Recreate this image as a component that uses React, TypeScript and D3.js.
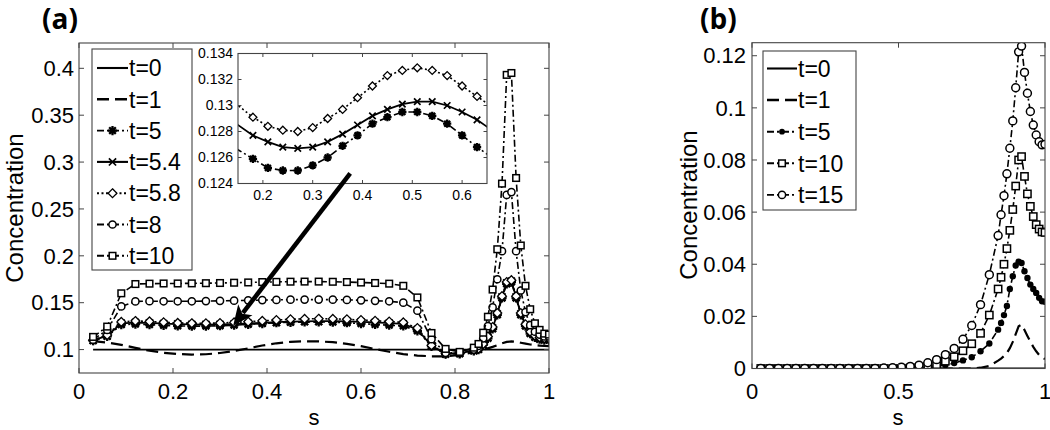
import React from "react";
import * as d3 from "d3";

// ---------- DATA ----------
const S_GRID = [
  0.03, 0.06, 0.09, 0.12, 0.15, 0.18, 0.21, 0.24, 0.27, 0.30, 0.33, 0.36, 0.39, 0.42,
  0.45, 0.48, 0.51, 0.54, 0.57, 0.60, 0.63, 0.66, 0.69, 0.72, 0.75, 0.78, 0.81, 0.84,
  0.85, 0.86, 0.87, 0.88, 0.89, 0.90, 0.91, 0.92, 0.93, 0.94, 0.95, 0.96, 0.97, 0.98, 0.99, 1.00,
];
const T0_S = [0.03, 1.0];

// panel (a)
const A_T0 = [0.1, 0.1];
const A_T1 = [
  0.109, 0.1075, 0.105, 0.1018, 0.0988, 0.0966, 0.0952, 0.0947, 0.095, 0.0963, 0.0985, 0.1013, 0.1043, 0.1067,
  0.1082, 0.1088, 0.1087, 0.1079, 0.1061, 0.1036, 0.1006, 0.0977, 0.0952, 0.0936, 0.0928, 0.0928, 0.0942, 0.0972,
  0.0984, 0.0998, 0.1013, 0.1029, 0.1047, 0.1066, 0.1082, 0.1087, 0.1082, 0.1073, 0.1063, 0.1054, 0.1047, 0.1042, 0.1038, 0.1036,
];
const A_T5 = [
  0.1095, 0.114, 0.1265, 0.1272, 0.1266, 0.1259, 0.1252, 0.125, 0.125, 0.1254, 0.126, 0.1269, 0.1277, 0.1286,
  0.1291, 0.1295, 0.1295, 0.1292, 0.1286, 0.1277, 0.1268, 0.126, 0.1252, 0.12, 0.1035, 0.095, 0.0955, 0.0985,
  0.1, 0.105, 0.112, 0.122, 0.137, 0.155, 0.17, 0.172, 0.155, 0.137, 0.125, 0.117, 0.113, 0.111, 0.11, 0.11,
];
const A_T54 = [
  0.1098, 0.1148, 0.128, 0.1288, 0.1285, 0.1277, 0.1272, 0.1268, 0.1267, 0.1268, 0.1272, 0.1278, 0.1285, 0.1292,
  0.1297, 0.1301, 0.1303, 0.1303, 0.13, 0.1295, 0.1289, 0.1281, 0.1273, 0.1215, 0.104, 0.0955, 0.096, 0.099,
  0.1005, 0.1055, 0.113, 0.123, 0.138, 0.156, 0.171, 0.173, 0.156, 0.138, 0.126, 0.118, 0.114, 0.112, 0.111, 0.111,
];
const A_T58 = [
  0.11, 0.1155, 0.1295, 0.1305, 0.13, 0.1291, 0.1284, 0.1281, 0.128, 0.1283, 0.129, 0.1297, 0.1306, 0.1315,
  0.1323, 0.1327, 0.1329, 0.1327, 0.1323, 0.1315, 0.1307, 0.1299, 0.129, 0.123, 0.1045, 0.096, 0.0963, 0.0995,
  0.101, 0.106, 0.114, 0.124, 0.139, 0.157, 0.172, 0.174, 0.157, 0.139, 0.127, 0.119, 0.115, 0.113, 0.112, 0.112,
];
const A_T8 = [
  0.1106, 0.121, 0.146, 0.1514, 0.1516, 0.1515, 0.1515, 0.1515, 0.1517, 0.152, 0.1522, 0.1525, 0.1528, 0.153,
  0.1532, 0.1533, 0.1533, 0.1532, 0.153, 0.1525, 0.152, 0.1515, 0.15, 0.1415, 0.111, 0.0965, 0.0965, 0.1,
  0.104, 0.112, 0.125, 0.145, 0.175, 0.205, 0.265, 0.268, 0.205, 0.163, 0.14, 0.126, 0.119, 0.116, 0.114, 0.114,
];
const A_T10 = [
  0.1135, 0.1245, 0.16, 0.1699, 0.1703, 0.1705, 0.1705, 0.1706, 0.1708, 0.171, 0.1713, 0.1716, 0.172, 0.1722,
  0.1724, 0.1725, 0.1725, 0.1723, 0.172, 0.1715, 0.171, 0.1703, 0.168, 0.1556, 0.1177, 0.1007, 0.0975, 0.102,
  0.106, 0.118, 0.135, 0.164, 0.207, 0.277, 0.393, 0.395, 0.283, 0.211, 0.168, 0.143, 0.128, 0.121, 0.117, 0.116,
];

// panel (b)
const B_T0 = [0, 0];
const B_T1 = [
  0, 0, 0, 0, 0, 0, 0, 0, 0, 0, 0, 0, 0, 0,
  0, 0, 0, 0, 0, 0, 0, 0, 0, 0, 0, 0.0003, 0.001, 0.003,
  0.0038, 0.0048, 0.006, 0.0078, 0.0102, 0.0132, 0.0162, 0.0168, 0.0148, 0.0125, 0.0103, 0.0083, 0.0066, 0.0052, 0.0042, 0.0036,
];
const B_T5 = [
  0, 0, 0, 0, 0, 0, 0, 0, 0, 0, 0, 0, 0, 0,
  0, 0, 0, 0, 0.0002, 0.0004, 0.0008, 0.0013, 0.0021, 0.0031, 0.0043, 0.0066, 0.0096, 0.0149,
  0.0175, 0.0205, 0.024, 0.0305, 0.0354, 0.0395, 0.041, 0.0405, 0.0373, 0.0347, 0.0322, 0.0305, 0.029, 0.0271, 0.0258, 0.0256,
];
const B_T10 = [
  0, 0, 0, 0, 0, 0, 0, 0, 0, 0, 0, 0, 0, 0,
  0, 0, 0, 0.0002, 0.0004, 0.0008, 0.0015, 0.0028, 0.0045, 0.0068, 0.0095, 0.0135, 0.0205, 0.0305,
  0.035, 0.04, 0.046, 0.053, 0.061, 0.07, 0.08, 0.0813, 0.0737, 0.067, 0.0622, 0.0583, 0.0552, 0.0535, 0.0524, 0.0522,
];
const B_T15 = [
  0, 0, 0, 0, 0, 0, 0, 0, 0, 0, 0, 0, 0, 0,
  0.0002, 0.0003, 0.0005, 0.0008, 0.0013, 0.0022, 0.0034, 0.0053, 0.0077, 0.0112, 0.0165, 0.0245, 0.036, 0.051,
  0.059, 0.0663, 0.0747, 0.0845, 0.095, 0.1077, 0.1215, 0.1237, 0.1136, 0.1056, 0.0986, 0.0934, 0.0896, 0.087, 0.0858, 0.086,
];

const A_X_TICKS = [0, 0.2, 0.4, 0.6, 0.8, 1];
const A_Y_TICKS = [0.1, 0.15, 0.2, 0.25, 0.3, 0.35, 0.4];
const I_X_TICKS = [0.2, 0.3, 0.4, 0.5, 0.6];
const I_Y_TICKS = [0.124, 0.126, 0.128, 0.13, 0.132, 0.134];
const B_X_TICKS = [0, 0.5, 1];
const B_Y_TICKS = [0, 0.02, 0.04, 0.06, 0.08, 0.1, 0.12];
const A_LABELS = ["t=0", "t=1", "t=5", "t=5.4", "t=5.8", "t=8", "t=10"];
const B_LABELS = ["t=0", "t=1", "t=5", "t=10", "t=15"];
const ARROW_FROM = [0.577, 0.288];
const ARROW_TO = [0.328, 0.1255];

// ---------- STYLE ----------
const FONT = "'Liberation Sans', Arial, Helvetica, sans-serif";
const DASH = { solid: undefined, dashed: "12,6", dashdot: "7,3,2,3", dotted: "2,2.5" } as any;
const WIDTH = { solid: 1.8, dashed: 2.2, dashdot: 1.6, dotted: 1.6 } as any;

const xA = d3.scaleLinear().domain([0, 1]).range([79, 549]);
const yA = d3.scaleLinear().domain([0.075, 0.427]).range([373, 43]);
const xI = d3.scaleLinear().domain([0.15, 0.65]).range([238, 487]);
const yI = d3.scaleLinear().domain([0.124, 0.134]).range([183.5, 53.5]);
const xB = d3.scaleLinear().domain([0, 1]).range([752, 1045]);
const yB = d3.scaleLinear().domain([0, 0.125]).range([368.5, 42.7]);

type Ser = { s: number[]; v: number[]; dash: string; marker: string | null; label: string };

const A_SERIES: Ser[] = [
  { s: T0_S, v: A_T0, dash: "solid", marker: null, label: A_LABELS[0] },
  { s: S_GRID, v: A_T1, dash: "dashed", marker: null, label: A_LABELS[1] },
  { s: S_GRID, v: A_T5, dash: "dashdot", marker: "star", label: A_LABELS[2] },
  { s: S_GRID, v: A_T54, dash: "solid", marker: "x", label: A_LABELS[3] },
  { s: S_GRID, v: A_T58, dash: "dotted", marker: "diamond", label: A_LABELS[4] },
  { s: S_GRID, v: A_T8, dash: "dashdot", marker: "circle", label: A_LABELS[5] },
  { s: S_GRID, v: A_T10, dash: "dashdot", marker: "square", label: A_LABELS[6] },
];
const INSET_SERIES = [A_SERIES[2], A_SERIES[3], A_SERIES[4]];
const B_SERIES: Ser[] = [
  { s: T0_S, v: B_T0, dash: "solid", marker: null, label: B_LABELS[0] },
  { s: S_GRID, v: B_T1, dash: "dashed", marker: null, label: B_LABELS[1] },
  { s: S_GRID, v: B_T5, dash: "dashdot", marker: "dot", label: B_LABELS[2] },
  { s: S_GRID, v: B_T10, dash: "dashdot", marker: "square", label: B_LABELS[3] },
  { s: S_GRID, v: B_T15, dash: "dashdot", marker: "circle", label: B_LABELS[4] },
];

function Marker({ type, cx, cy, scale = 1 }: { type: string; cx: number; cy: number; scale?: number }) {
  const k = scale;
  if (type === "star") {
    const r = 4.6 * k, d = r * 0.72;
    return (
      <path
        d={`M${cx - r},${cy}L${cx + r},${cy}M${cx},${cy - r}L${cx},${cy + r}M${cx - d},${cy - d}L${cx + d},${cy + d}M${cx - d},${cy + d}L${cx + d},${cy - d}`}
        stroke="#000" strokeWidth={2.3} fill="none"
      />
    );
  }
  if (type === "x") {
    const d = 3.6 * k;
    return <path d={`M${cx - d},${cy - d}L${cx + d},${cy + d}M${cx - d},${cy + d}L${cx + d},${cy - d}`} stroke="#000" strokeWidth={1.7} fill="none" />;
  }
  if (type === "diamond") {
    const r = 4.4 * k;
    return <path d={`M${cx},${cy - r}L${cx + r},${cy}L${cx},${cy + r}L${cx - r},${cy}Z`} stroke="#000" strokeWidth={1.3} fill="#fff" />;
  }
  if (type === "circle") return <circle cx={cx} cy={cy} r={3.6 * k} stroke="#000" strokeWidth={1.5} fill="#fff" />;
  if (type === "square") {
    const h = 3.3 * k;
    return <rect x={cx - h} y={cy - h} width={2 * h} height={2 * h} stroke="#000" strokeWidth={1.5} fill="#fff" />;
  }
  if (type === "dot") return <circle cx={cx} cy={cy} r={2.9 * k} fill="#000" />;
  return null;
}

function Series({ ser, x, y, clip, sMin, sMax, mScale = 1 }: any) {
  const pts: [number, number][] = ser.s.map((si: number, i: number) => [si, ser.v[i]]);
  const line = d3.line<[number, number]>().x((d) => x(d[0])).y((d) => y(d[1]));
  return (
    <g clipPath={clip}>
      <path d={line(pts) || ""} fill="none" stroke="#000" strokeWidth={WIDTH[ser.dash]} strokeDasharray={DASH[ser.dash]} />
      {ser.marker &&
        pts
          .filter((p) => p[0] > sMin && p[0] < sMax)
          .map((p, i) => <Marker key={i} type={ser.marker} cx={x(p[0])} cy={y(p[1])} scale={mScale} />)}
    </g>
  );
}

function Frame({ x, y, xTicks, yTicks, tick = 5, fs = 22, xLabY, yLabX, fmtX = String, fmtY = String, stroke = "#444" }: any) {
  const [x0, x1] = x.range();
  const [y0, y1] = y.range();
  return (
    <g fontFamily={FONT} fontSize={fs} fill="#000">
      <rect x={x0} y={y1} width={x1 - x0} height={y0 - y1} fill="none" stroke={stroke} strokeWidth={1.1} />
      {xTicks.map((t: number) => (
        <g key={"x" + t}>
          <line x1={x(t)} x2={x(t)} y1={y0} y2={y0 - tick} stroke={stroke} />
          <line x1={x(t)} x2={x(t)} y1={y1} y2={y1 + tick} stroke={stroke} />
          <text x={x(t)} y={xLabY} textAnchor="middle">{fmtX(t)}</text>
        </g>
      ))}
      {yTicks.map((t: number) => (
        <g key={"y" + t}>
          <line x1={x0} x2={x0 + tick} y1={y(t)} y2={y(t)} stroke={stroke} />
          <line x1={x1} x2={x1 - tick} y1={y(t)} y2={y(t)} stroke={stroke} />
          <text x={yLabX} y={y(t)} dy="0.35em" textAnchor="end">{fmtY(t)}</text>
        </g>
      ))}
    </g>
  );
}

function Legend({ series, x0, y0, w, h, rowY, sampleX0, sampleX1, textX, fs }: any) {
  return (
    <g>
      <rect x={x0} y={y0} width={w} height={h} fill="#fff" stroke="#444" strokeWidth={1.1} />
      {series.map((s: Ser, i: number) => {
        const yy = rowY[i];
        const mid = (sampleX0 + sampleX1) / 2;
        return (
          <g key={i}>
            <line x1={sampleX0} x2={sampleX1} y1={yy} y2={yy} stroke="#000" strokeWidth={WIDTH[s.dash] + 0.3} strokeDasharray={DASH[s.dash]} />
            {s.marker && <Marker type={s.marker} cx={mid} cy={yy} />}
            <text x={textX} y={yy} dy="0.36em" fontFamily={FONT} fontSize={fs}>{s.label}</text>
          </g>
        );
      })}
    </g>
  );
}

export default function App() {
  const aRows = A_LABELS.map((_, i) => 68 + i * 31.3);
  const bRows = B_LABELS.map((_, i) => 68.5 + i * 31.6);
  const ax0 = xA(ARROW_FROM[0]), ay0 = yA(ARROW_FROM[1]);
  const ax1 = xA(ARROW_TO[0]), ay1 = yA(ARROW_TO[1]);
  const len = Math.hypot(ax1 - ax0, ay1 - ay0);
  const ux = (ax1 - ax0) / len, uy = (ay1 - ay0) / len;
  const headL = 20, headW = 9;
  const bx = ax1 - ux * headL, by = ay1 - uy * headL;
  const head = `M${ax1},${ay1}L${bx - uy * headW},${by + ux * headW}L${bx + ux * 5},${by + uy * 5}L${bx + uy * headW},${by - ux * headW}Z`;

  return (
    <svg width={1050} height={430} style={{ position: "absolute", left: 0, top: 0, background: "#fff" }}>
      <defs>
        <clipPath id="clipA"><rect x={79} y={43} width={470} height={330} /></clipPath>
        <clipPath id="clipI"><rect x={238} y={53.5} width={249} height={130} /></clipPath>
        <clipPath id="clipB"><rect x={752} y={42.7} width={293} height={325.8} /></clipPath>
      </defs>
      <rect x={0} y={0} width={1050} height={430} fill="#fff" />

      {/* panel (a) */}
      <text x={42} y={29} fontFamily="'Open Sans', Lato, sans-serif" fontWeight={700} fontSize={28}>(a)</text>
      {A_SERIES.map((s, i) => (
        <Series key={i} ser={s} x={xA} y={yA} clip="url(#clipA)" sMin={0} sMax={1.01} />
      ))}
      <Frame x={xA} y={yA} xTicks={A_X_TICKS} yTicks={A_Y_TICKS} xLabY={399} yLabX={74} />
      <text x={314} y={425} textAnchor="middle" fontFamily={FONT} fontSize={22}>s</text>
      <text transform={`translate(23,208) rotate(-90)`} textAnchor="middle" fontFamily={FONT} fontSize={24}>Concentration</text>
      <Legend series={A_SERIES} x0={92} y0={49} w={100} h={221} rowY={aRows} sampleX0={97} sampleX1={128} textX={129} fs={23} />

      {/* inset */}
      <rect x={238} y={53.5} width={249} height={130} fill="#fff" />
      {INSET_SERIES.map((s, i) => (
        <Series key={i} ser={s} x={xI} y={yI} clip="url(#clipI)" sMin={0.152} sMax={0.648} mScale={0.9} />
      ))}
      <Frame x={xI} y={yI} xTicks={I_X_TICKS} yTicks={I_Y_TICKS} tick={3.5} fs={14} xLabY={200} yLabX={233} />

      {/* arrow */}
      <line x1={ax0} y1={ay0} x2={bx + ux * 4} y2={by + uy * 4} stroke="#000" strokeWidth={4.5} />
      <path d={head} fill="#000" />

      {/* panel (b) */}
      <text x={700} y={29} fontFamily="'Open Sans', Lato, sans-serif" fontWeight={700} fontSize={28}>(b)</text>
      {B_SERIES.map((s, i) => (
        <Series key={i} ser={s} x={xB} y={yB} clip="url(#clipB)" sMin={0} sMax={1.01} mScale={1.1} />
      ))}
      <Frame x={xB} y={yB} xTicks={B_X_TICKS} yTicks={B_Y_TICKS} xLabY={399} yLabX={746} />
      <text x={898} y={425} textAnchor="middle" fontFamily={FONT} fontSize={22}>s</text>
      <text transform={`translate(697,205) rotate(-90)`} textAnchor="middle" fontFamily={FONT} fontSize={24}>Concentration</text>
      <Legend series={B_SERIES} x0={763} y0={51} w={93} h={159} rowY={bRows} sampleX0={767} sampleX1={797} textX={798} fs={23} />
    </svg>
  );
}
